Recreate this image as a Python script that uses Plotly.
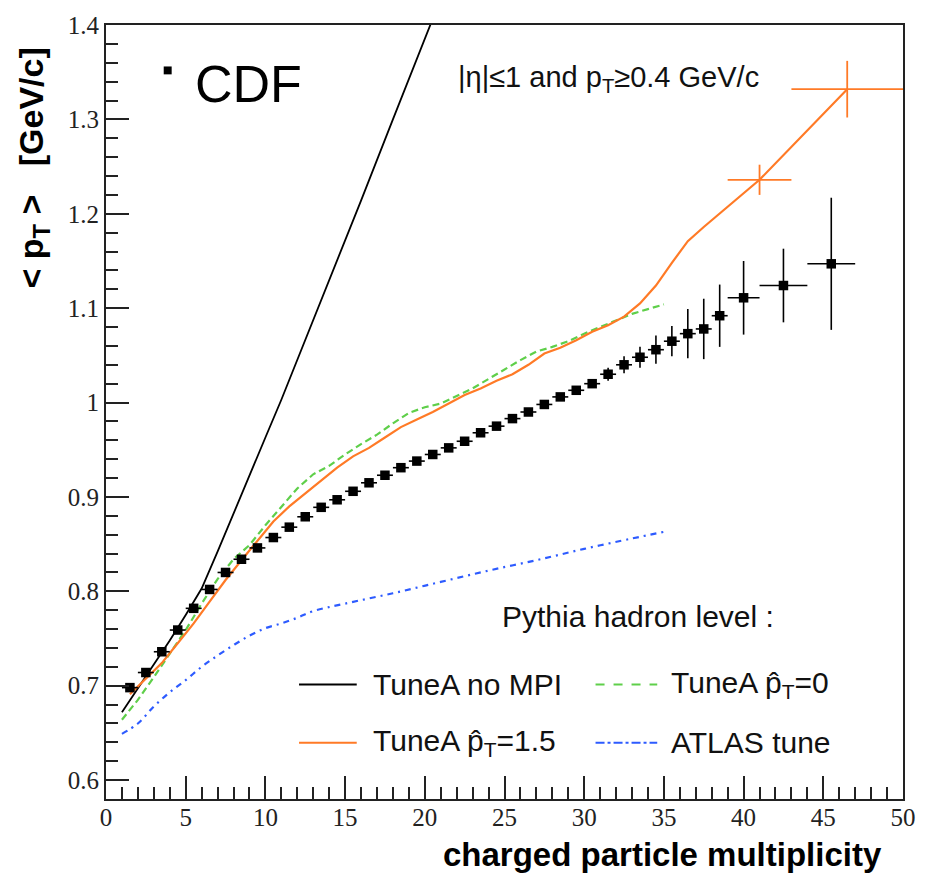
import plotly.graph_objects as go

# ---- CDF data: <pT> vs charged multiplicity ----
cdf_n = [1.5, 2.5, 3.5, 4.5, 5.5, 6.5, 7.5, 8.5, 9.5, 10.5, 11.5, 12.5, 13.5, 14.5,
         15.5, 16.5, 17.5, 18.5, 19.5, 20.5, 21.5, 22.5, 23.5, 24.5, 25.5, 26.5,
         27.5, 28.5, 29.5, 30.5, 31.5, 32.5, 33.5, 34.5, 35.5, 36.5, 37.5, 38.5,
         40.0, 42.5, 45.5]
cdf_pt = [0.698, 0.714, 0.736, 0.759, 0.782, 0.802, 0.820, 0.834, 0.846, 0.857,
          0.868, 0.879, 0.889, 0.897, 0.906, 0.915, 0.923, 0.931, 0.938, 0.945,
          0.952, 0.959, 0.968, 0.975, 0.983, 0.990, 0.998, 1.006, 1.013, 1.020,
          1.030, 1.040, 1.048, 1.056, 1.065, 1.073, 1.078, 1.092, 1.111, 1.124,
          1.147]
cdf_err = [0.003] * 30 + [0.007, 0.009, 0.011, 0.015, 0.016, 0.026, 0.032,
                          0.033, 0.039, 0.039, 0.070]
cdf_xerr = [0.5] * 38 + [1.0, 1.5, 1.5]

# ---- Pythia hadron level curves ----
nompi_n = [1, 2, 3, 4, 5, 6, 7, 8, 9, 10, 11, 12, 14, 16, 18, 20, 21]
nompi_pt = [0.672, 0.697, 0.722, 0.748, 0.775, 0.803, 0.842, 0.883, 0.923,
            0.963, 1.003, 1.045, 1.130, 1.214, 1.300, 1.385, 1.428]

tuneA15_n = [1.5, 2.5, 3.5, 4.5, 5.5, 6.5, 7.5, 8.5, 9.5, 10.5, 11.5, 12.5, 13.5,
             14.5, 15.5, 16.5, 17.5, 18.5, 19.5, 20.5, 21.5, 22.5, 23.5, 24.5,
             25.5, 26.5, 27.5, 28.5, 29.5, 30.5, 31.5, 32.5, 33.5, 34.5, 35.5,
             36.5, 37.5, 38.5, 41.0, 46.5]
tuneA15_pt = [0.691, 0.707, 0.724, 0.745, 0.766, 0.789, 0.812, 0.833, 0.853,
              0.874, 0.890, 0.904, 0.917, 0.931, 0.943, 0.952, 0.963, 0.974,
              0.982, 0.990, 0.999, 1.008, 1.015, 1.023, 1.030, 1.040, 1.052,
              1.058, 1.066, 1.075, 1.082, 1.091, 1.105, 1.124, 1.148, 1.171,
              1.186, 1.200, 1.236, 1.332]
# last two bins of the TuneA pT=1.5 curve carry visible errors
tuneA15_tail_n = [41.0, 46.5]
tuneA15_tail_pt = [1.236, 1.332]
tuneA15_tail_xerr = [2.0, 3.5]
tuneA15_tail_yerr = [0.016, 0.030]

tuneA0_n = [1, 2, 3, 4, 5, 6, 7, 8, 9, 10, 11, 12, 13, 14, 15, 16, 17, 18, 19,
            20, 21, 22, 23, 24, 25, 26, 27, 28, 29, 30, 31, 32, 33, 34, 35]
tuneA0_pt = [0.664, 0.685, 0.709, 0.734, 0.759, 0.787, 0.813, 0.834, 0.849,
             0.870, 0.890, 0.909, 0.924, 0.933, 0.945, 0.956, 0.966, 0.978,
             0.989, 0.995, 0.999, 1.007, 1.015, 1.025, 1.035, 1.045, 1.054,
             1.059, 1.065, 1.073, 1.080, 1.087, 1.094, 1.099, 1.104]

atlas_n = [1, 2, 3, 4, 5, 6, 7, 8, 9, 10, 11, 12, 13, 15, 18, 21, 24, 27, 30,
           33, 35]
atlas_pt = [0.649, 0.660, 0.678, 0.693, 0.706, 0.720, 0.732, 0.743, 0.753,
            0.761, 0.766, 0.772, 0.779, 0.787, 0.798, 0.810, 0.822, 0.833,
            0.845, 0.856, 0.863]

BLACK = "#000000"
ORANGE = "#ff7a26"
GREEN = "#5fcf4a"
BLUE = "#2d5bff"

W, H = 928, 873
L, R, T, B = 106, 907, 15, 799


def px(x):
    return (x - L) / (R - L)


def py(y):
    return (B - y) / (B - T)


fig = go.Figure()

fig.add_trace(go.Scatter(x=atlas_n, y=atlas_pt, mode="lines", line_shape="spline",
                         line=dict(color=BLUE, width=2.2, dash="6px,5px,2px,5px")))
fig.add_trace(go.Scatter(x=tuneA0_n, y=tuneA0_pt, mode="lines",
                         line=dict(color=GREEN, width=2.2, dash="7px,4px")))
fig.add_trace(go.Scatter(x=nompi_n, y=nompi_pt, mode="lines",
                         line=dict(color=BLACK, width=1.8)))
fig.add_trace(go.Scatter(x=tuneA15_n, y=tuneA15_pt, mode="lines",
                         line=dict(color=ORANGE, width=2.2)))
fig.add_trace(go.Scatter(
    x=tuneA15_tail_n, y=tuneA15_tail_pt, mode="markers",
    marker=dict(size=1, color="rgba(0,0,0,0)"),
    error_x=dict(type="data", array=tuneA15_tail_xerr, color=ORANGE, thickness=1.8, width=0),
    error_y=dict(type="data", array=tuneA15_tail_yerr, color=ORANGE, thickness=1.8, width=0)))
fig.add_trace(go.Scatter(
    x=cdf_n, y=cdf_pt, mode="markers",
    marker=dict(symbol="square", size=9.5, color=BLACK),
    error_x=dict(type="data", array=cdf_xerr, color=BLACK, thickness=1.6, width=0),
    error_y=dict(type="data", array=cdf_err, color=BLACK, thickness=1.6, width=0)))

axis_common = dict(
    showline=True, linecolor="#222222", linewidth=2, mirror=True,
    showgrid=False, zeroline=False,
    ticks="inside", ticklen=23, tickwidth=1.5, tickcolor="#222222",
    tickfont=dict(family="Liberation Serif", size=25, color="#222222"),
)

fig.update_xaxes(range=[0, 50], tick0=0, dtick=5, ticklabelstandoff=-5,
                 minor=dict(ticks="inside", ticklen=12, dtick=1, tickwidth=1.5,
                            tickcolor="#222222"),
                 **axis_common)
fig.update_yaxes(range=[0.58, 1.4], tick0=0, dtick=0.1,
                 minor=dict(ticks="inside", ticklen=12, dtick=0.02, tickwidth=1.5,
                            tickcolor="#222222"),
                 **axis_common)

sans = "Liberation Sans"
ann = []
ann.append(dict(text="<b>charged particle multiplicity</b>", x=px(888), y=py(855),
                xanchor="right", yanchor="middle",
                font=dict(family=sans, size=33, color=BLACK)))
ann.append(dict(text="<b>&lt; p<sub>T</sub> &gt;   [GeV/c]</b>", x=px(33), y=py(160),
                xanchor="center", yanchor="middle", textangle=-90,
                font=dict(family=sans, size=34, color=BLACK)))
ann.append(dict(text="CDF", x=px(193), y=py(75), xanchor="left", yanchor="middle",
                font=dict(family=sans, size=52, color=BLACK)))
ann.append(dict(text="|η|≤1 and p<sub>T</sub>≥0.4 GeV/c", x=px(458), y=py(70),
                xanchor="left", yanchor="middle",
                font=dict(family=sans, size=29, color="#111111")))
ann.append(dict(text="Pythia hadron level :", x=px(502), y=py(614),
                xanchor="left", yanchor="middle",
                font=dict(family=sans, size=30, color="#111111")))

legend_rows = [
    ("TuneA no MPI", BLACK, "solid", 300, 358, 372, 683),
    ("TuneA p̂<sub>T</sub>=1.5", ORANGE, "solid", 300, 358, 372, 742),
    ("TuneA p̂<sub>T</sub>=0", GREEN, "dash", 598, 660, 672, 683),
    ("ATLAS tune", BLUE, "dashdot", 598, 660, 672, 742),
]
shapes = []
for label, col, dash, x0, x1, xt, yc in legend_rows:
    shapes.append(dict(type="line", xref="paper", yref="paper",
                       x0=px(x0), x1=px(x1), y0=py(yc), y1=py(yc),
                       line=dict(color=col, width=1.8, dash=dash)))
    ann.append(dict(text=label, x=px(xt), y=py(yc), xanchor="left",
                    yanchor="middle", font=dict(family=sans, size=30, color="#111111")))

# CDF marker key next to the experiment label
shapes.append(dict(type="rect", xref="paper", yref="paper",
                   x0=px(164), x1=px(172), y0=py(65), y1=py(57),
                   fillcolor=BLACK, line=dict(width=0)))

for a in ann:
    a.update(xref="paper", yref="paper", showarrow=False)

fig.update_layout(
    width=W, height=H,
    margin=dict(l=L, r=W - R, t=T, b=H - B),
    paper_bgcolor="white", plot_bgcolor="white",
    showlegend=False,
    annotations=ann, shapes=shapes,
)

fig.write_html("out.html")
